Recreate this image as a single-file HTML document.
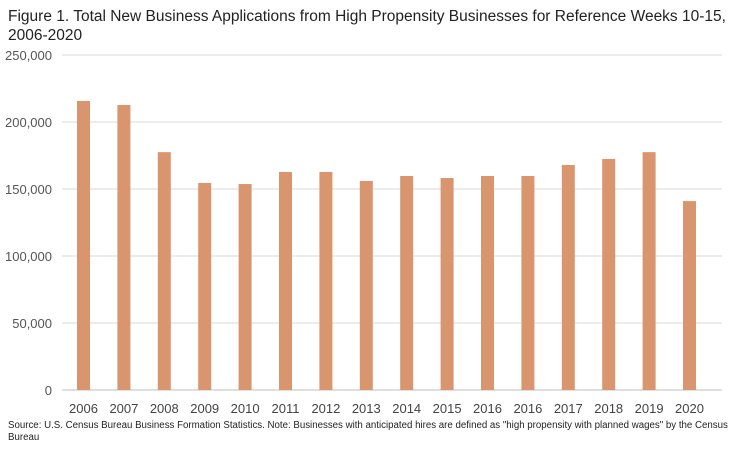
<!DOCTYPE html>
<html><head><meta charset="utf-8"><style>
body{margin:0;background:#fff;width:745px;height:448px;overflow:hidden;font-family:"Liberation Sans",sans-serif;}
</style></head><body>
<svg width="745" height="448" id="c">
<text x="8" y="21" font-size="15.5" fill="#222">Figure 1. Total New Business Applications from High Propensity Businesses for Reference Weeks 10-15,</text>
<text x="8" y="40" font-size="15.5" fill="#222">2006-2020</text>
<text x="8" y="428" font-size="9.7" fill="#222">Source: U.S. Census Bureau Business Formation Statistics. Note: Businesses with anticipated hires are defined as "high propensity with planned wages" by the Census</text>
<text x="8" y="440" font-size="9.7" fill="#222">Bureau</text>
</svg>
<script>
const categories=["2006","2007","2008","2009","2010","2011","2012","2013","2014","2015","2016","2016","2017","2018","2019","2020"];
const values=[215700,212700,177500,154500,153700,162700,162700,156000,159700,158200,159700,159700,167900,172400,177500,141000];
const ticks=[0,50000,100000,150000,200000,250000];
const tickLabels=["0","50,000","100,000","150,000","200,000","250,000"];
const svg=document.getElementById('c');const NS='http://www.w3.org/2000/svg';
const y0=390,yTop=55,maxV=250000;
function y(v){return y0-(v/maxV)*(y0-yTop);}
function x(i){return 83.5+40.4*i;}
function mk(t,a){const e=document.createElementNS(NS,t);for(const k in a)e.setAttribute(k,a[k]);svg.appendChild(e);return e;}
ticks.forEach((t,i)=>{
 const g=mk('line',{x1:62,x2:722,y1:y(t),y2:y(t),stroke:i==0?'#bfbfbf':'#d9d9d9','stroke-width':1});
 
 
 const l=mk('text',{x:52,y:y(t)+5,'font-size':13,fill:'#555','text-anchor':'end'});l.textContent=tickLabels[i];
 
 
});
categories.forEach((c,i)=>{
 const b=mk('rect',{x:x(i)-6.5,y:y(values[i]),width:13,height:y0-y(values[i]),fill:'#d9956e'});
 
 
 const l=mk('text',{x:x(i),y:413,'font-size':13,fill:'#444','text-anchor':'middle'});l.textContent=c;
 
 
});
</script>
</body></html>
